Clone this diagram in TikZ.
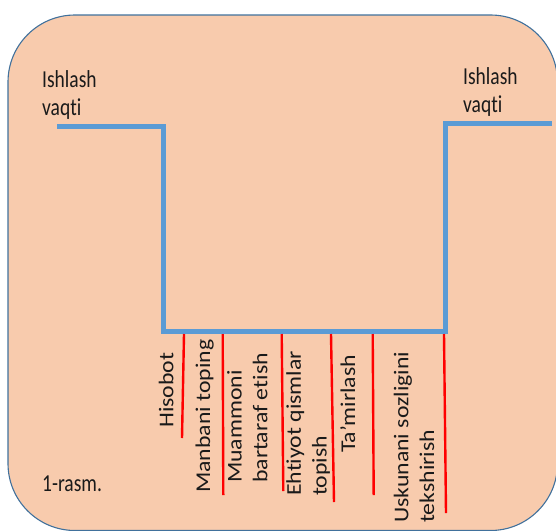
\documentclass[tikz,border=0pt]{standalone}
\usepackage{fontspec}
\setmainfont[Ligatures=NoCommon]{Carlito}
\definecolor{peach}{HTML}{F8CBAD}
\definecolor{framec}{HTML}{41719C}
\definecolor{bluel}{HTML}{5B9BD5}
\definecolor{txt}{HTML}{1A1A1A}
\begin{document}
\begin{tikzpicture}[x=1pt,y=-1pt,
  hlabel/.style={anchor=base west,inner sep=0pt,align=left,text=txt,yscale=1.25,
    font=\fontsize{19.5}{21.8}\selectfont},
  vlabel/.style={anchor=base west,inner sep=0pt,align=left,text=txt,rotate=90,xscale=1.13,
    font=\fontsize{21}{25.7}\selectfont},
  bluepath/.style={draw=bluel,line width=5pt},
  redline/.style={draw=red,line width=2.4pt}]
\useasboundingbox (0,0) rectangle (556,530);
\clip (0,0) rectangle (556,530);
\draw[framec,line width=1.1pt,fill=peach,rounded corners=67pt] (8,15) rectangle (557.5,530.5);
% blue time line
\coordinate (b0) at (57,126);
\coordinate (b1) at (163,126);
\coordinate (b2) at (163,331);
\coordinate (b3) at (445,331);
\coordinate (b4) at (445,123);
\coordinate (b5) at (552,123);
\draw[bluepath] (b0) -- (b1) -- (b2) -- (b3) -- (b4) -- (b5);
% red markers
\coordinate (r1t) at (184,334); \coordinate (r1b) at (182,438);
\coordinate (r2t) at (222.7,334); \coordinate (r2b) at (223.3,495);
\coordinate (r3t) at (281.7,334); \coordinate (r3b) at (283.3,491);
\coordinate (r4t) at (331,334); \coordinate (r4b) at (334,502);
\coordinate (r5t) at (372.7,334); \coordinate (r5b) at (373.7,495);
\coordinate (r6t) at (444,334); \coordinate (r6b) at (446,513);
\foreach \i in {1,...,6} \draw[redline] (r\i t) -- (r\i b);
% labels (multi-line nodes: base = last line)
\node[hlabel] (wl) at (42,115) {Ishlash\\vaqti};
\node[hlabel] (wr) at (463,112) {Ishlash\\vaqti};
\node[hlabel] (fig) at (42,491) {1-rasm.};
\node[vlabel] (l1) at (173.3,428) {Hisobot};
\node[vlabel] (l2) at (210,493) {Manbani toping};
\node[vlabel] (l3) at (267.3,483) {Muammoni\\bartaraf etish};
\node[vlabel] (l4) at (326.5,496) {Ehtiyot qismlar\\topish};
\node[vlabel] (l5) at (355,453) {Ta’mirlash};
\node[vlabel] (l6) at (434,523) {Uskunani sozligini\\tekshirish};
\end{tikzpicture}
\end{document}
